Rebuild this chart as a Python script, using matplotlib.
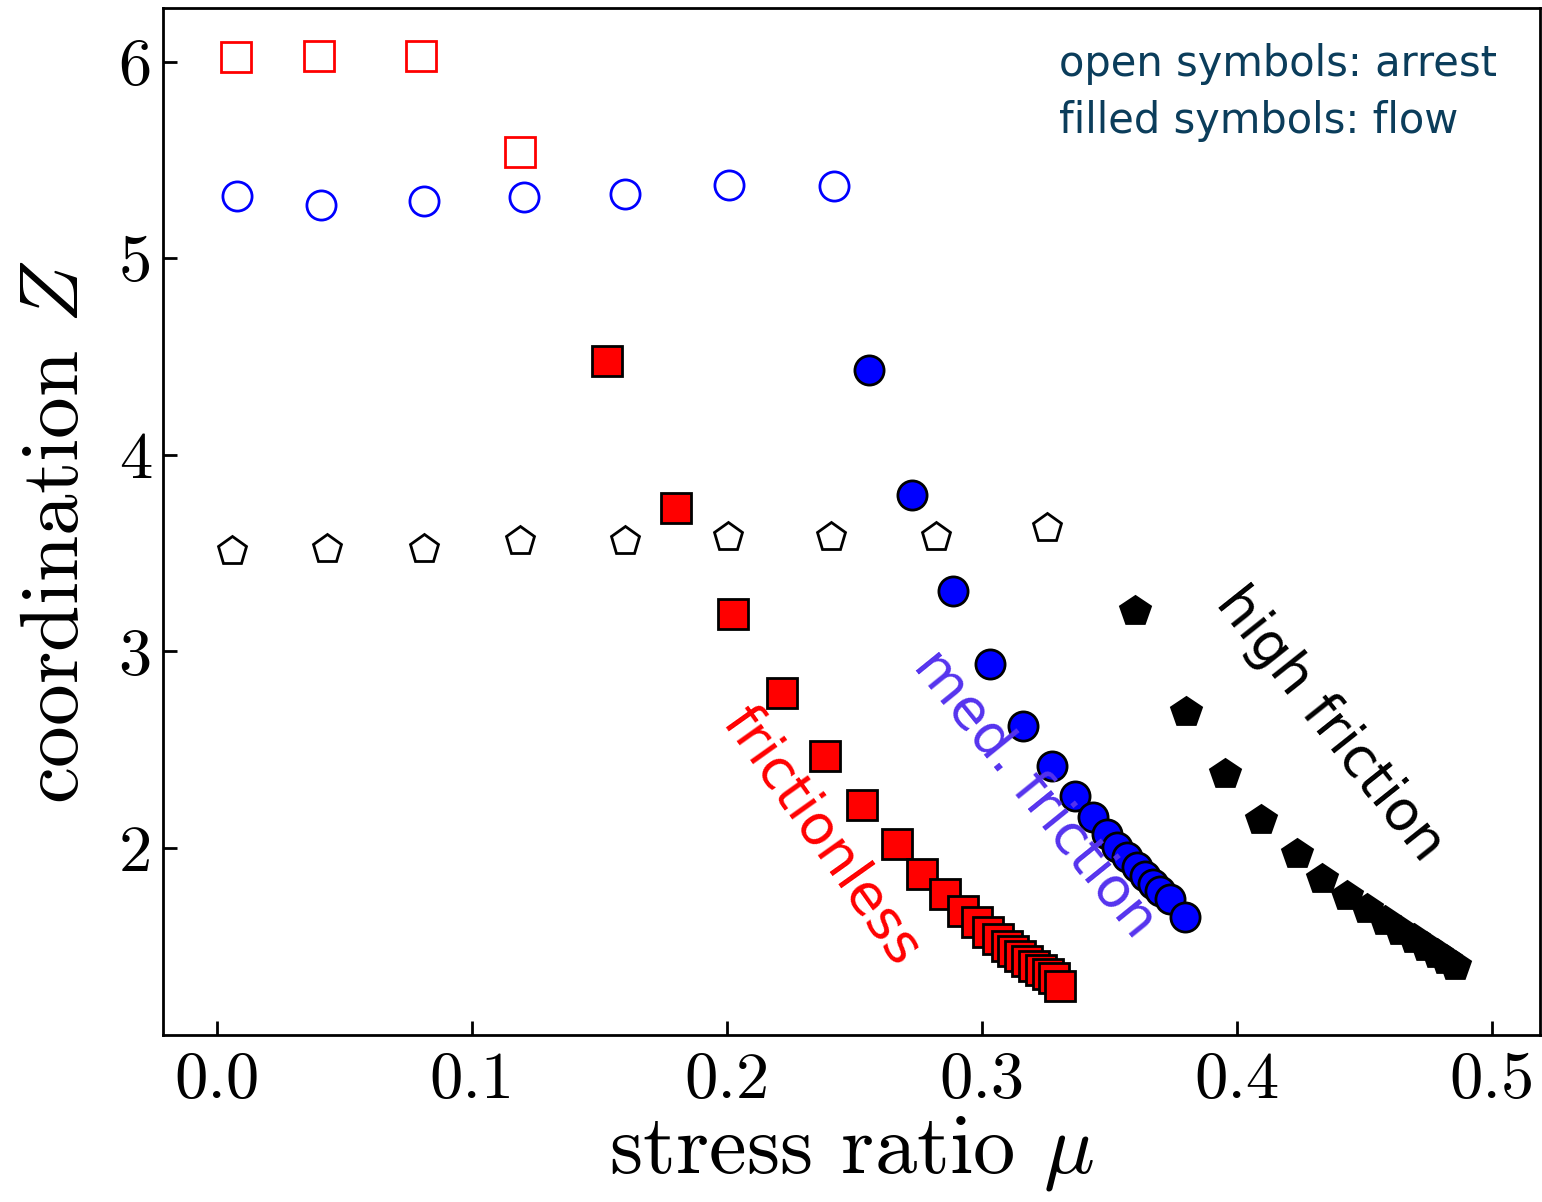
import matplotlib
matplotlib.use('Agg')
import matplotlib.pyplot as plt

plt.rcParams['font.family'] = 'serif'
plt.rcParams['font.serif'] = ['cmr10']
plt.rcParams['mathtext.fontset'] = 'cm'
plt.rcParams['axes.formatter.use_mathtext'] = True

# arrest (open symbols)
mu_arrest_nofric = [0.0075, 0.040, 0.080, 0.119]
z_arrest_nofric = [6.025, 6.03, 6.03, 5.54]

mu_arrest_med = [0.0078, 0.0408, 0.0812, 0.1204, 0.160, 0.2008, 0.242]
z_arrest_med = [5.315, 5.27, 5.29, 5.31, 5.325, 5.37, 5.365]

mu_arrest_high = [0.0059, 0.0431, 0.0812, 0.119, 0.160, 0.2004, 0.2408, 0.282, 0.3255]
z_arrest_high = [3.51, 3.52, 3.52, 3.56, 3.56, 3.58, 3.58, 3.58, 3.63]

# flow (filled symbols)
mu_flow_nofric = [0.153, 0.180, 0.2024, 0.2216, 0.2384, 0.2529, 0.2667, 0.2765,
                  0.2855, 0.2925, 0.298, 0.3024, 0.3063, 0.3098, 0.3122, 0.315,
                  0.3176, 0.3204, 0.3231, 0.3259, 0.3282, 0.3306]
z_flow_nofric = [4.477, 3.731, 3.188, 2.787, 2.467, 2.218, 2.020, 1.868,
                 1.766, 1.680, 1.624, 1.574, 1.538, 1.503, 1.477, 1.452,
                 1.426, 1.401, 1.381, 1.360, 1.340, 1.299]

mu_flow_med = [0.2557, 0.2725, 0.2886, 0.3031, 0.3161, 0.3275, 0.3365, 0.3435,
               0.349, 0.3529, 0.3569, 0.3608, 0.3639, 0.3671, 0.3698, 0.3737, 0.3796]
z_flow_med = [4.431, 3.797, 3.305, 2.934, 2.619, 2.416, 2.264, 2.157,
              2.071, 2.005, 1.954, 1.904, 1.858, 1.817, 1.782, 1.741, 1.650]

mu_flow_high = [0.360, 0.380, 0.3953, 0.4094, 0.4235, 0.4333, 0.4431, 0.451,
                0.458, 0.4639, 0.4694, 0.4741, 0.4784, 0.482, 0.4855]
z_flow_high = [3.208, 2.690, 2.376, 2.142, 1.970, 1.843, 1.756, 1.690,
               1.629, 1.579, 1.538, 1.497, 1.462, 1.431, 1.401]

fig = plt.figure(figsize=(15.42, 12.02), dpi=100)
ax = fig.add_axes([0.1057, 0.139, 0.893, 0.854])

ms = 21
# open symbols
ax.plot(mu_arrest_nofric, z_arrest_nofric, 's', ms=ms, mfc='none', mec='red', mew=2.0, ls='none')
ax.plot(mu_arrest_med, z_arrest_med, 'o', ms=ms, mfc='none', mec='blue', mew=2.0, ls='none')
ax.plot(mu_arrest_high, z_arrest_high, 'p', ms=ms, mfc='none', mec='black', mew=2.0, ls='none')

# filled symbols
ax.plot(mu_flow_nofric, z_flow_nofric, 's', ms=ms, mfc='red', mec='black', mew=2, ls='none')
ax.plot(mu_flow_med, z_flow_med, 'o', ms=ms, mfc='blue', mec='black', mew=2, ls='none')
ax.plot(mu_flow_high, z_flow_high, 'p', ms=ms + 1, mfc='black', mec='black', mew=2, ls='none')

ax.set_xlim(-0.0212, 0.519)
ax.set_ylim(1.05, 6.27)
ax.set_xticks([0.0, 0.1, 0.2, 0.3, 0.4, 0.5])
ax.set_yticks([2, 3, 4, 5, 6])
ax.set_xticklabels(['0.0', '0.1', '0.2', '0.3', '0.4', '0.5'])
ax.set_yticklabels(['2', '3', '4', '5', '6'])
ax.tick_params(direction='in', length=10, width=2, labelsize=48)
ax.tick_params(axis='x', pad=12)
ax.tick_params(axis='y', pad=8)
for s in ax.spines.values():
    s.set_linewidth(2)

ax.set_xlabel(r'stress ratio $\mu$', fontsize=61, labelpad=2)
ax.set_ylabel(r'coordination $Z$', fontsize=60)
ax.yaxis.set_label_coords(-0.05, 0.49)

sans = ['DejaVu Sans']
ax.text(0.651, 0.966, 'open symbols: arrest\nfilled symbols: flow', transform=ax.transAxes,
        ha='left', va='top', multialignment='left', fontsize=30, color='#0b3d5b',
        family=sans, linespacing=1.45)

ax.text(0.2373, 2.056, 'frictionless', color='red', fontsize=40, family=sans,
        rotation=-54.6, ha='center', va='center', rotation_mode='anchor')
ax.text(0.3208, 2.274, 'med. friction', color='#5533ee', fontsize=40, family=sans,
        rotation=-51, ha='center', va='center', rotation_mode='anchor')
ax.text(0.4365, 2.63, 'high friction', color='black', fontsize=40, family=sans,
        rotation=-51.5, ha='center', va='center', rotation_mode='anchor')

fig.savefig('out.png', dpi=100)
